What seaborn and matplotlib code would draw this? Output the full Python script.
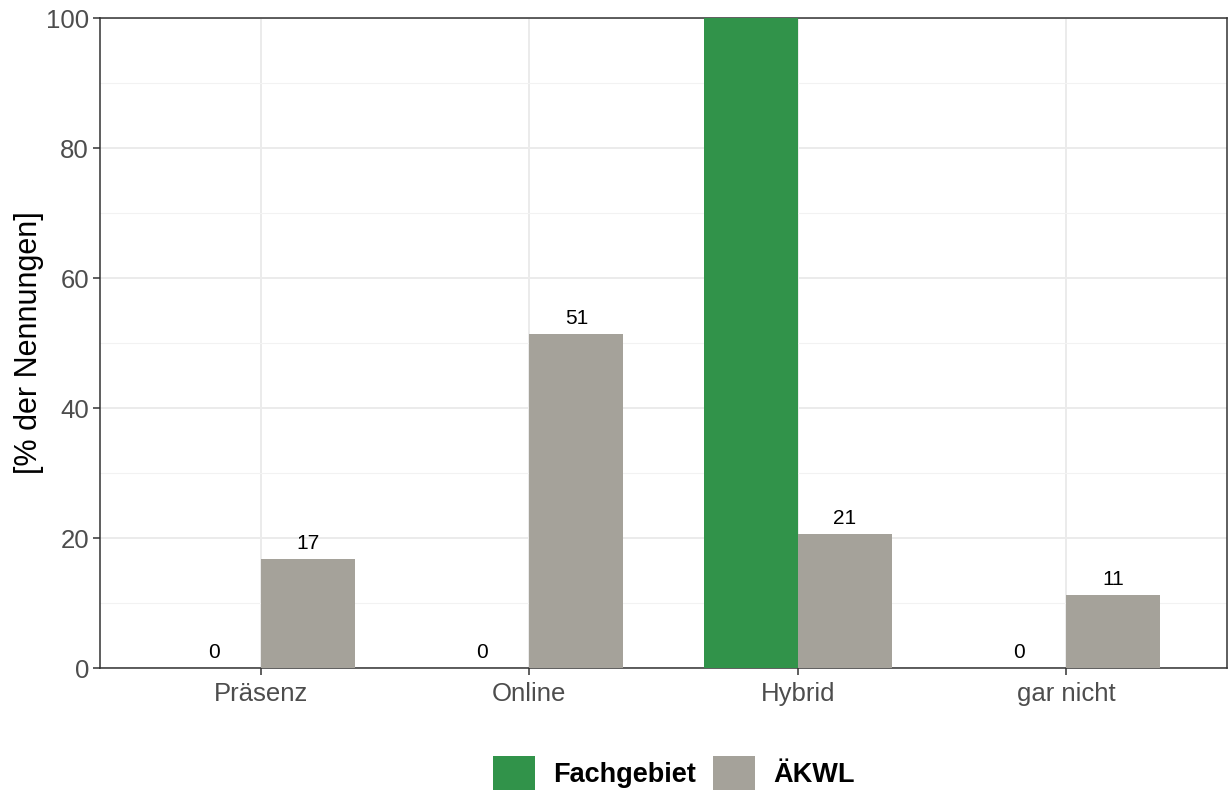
import matplotlib
matplotlib.use("Agg")
import matplotlib.pyplot as plt
from matplotlib.ticker import MultipleLocator
import pandas as pd
import seaborn as sns

categories = ["Präsenz", "Online", "Hybrid", "gar nicht"]
groups = ["Fachgebiet", "ÄKWL"]
fachgebiet = [0, 0, 100, 0]
aekwl = [16.7, 51.4, 20.6, 11.2]
colors = {"Fachgebiet": "#31934A", "ÄKWL": "#A5A29A"}

df = pd.DataFrame({
    "Kategorie": categories * 2,
    "Gruppe": [groups[0]] * 4 + [groups[1]] * 4,
    "Prozent": fachgebiet + aekwl,
})

sns.set_theme(style="white")
plt.rcParams["font.family"] = ["Liberation Sans", "DejaVu Sans"]

fig = plt.figure(figsize=(12.29, 7.94), dpi=100)
ax = fig.add_axes([100 / 1229, 1 - 668 / 794, 1127 / 1229, 650 / 794])

sns.barplot(
    data=df, x="Kategorie", y="Prozent", hue="Gruppe", order=categories,
    hue_order=groups, palette=colors, width=0.7, gap=0, saturation=1,
    linewidth=0, ax=ax, zorder=3,
)

# value labels; a bar reaching the top of the panel gets none (it would sit outside)
for cont in ax.containers:
    vals = cont.datavalues
    labels = [f"{v:.0f}" if v < 100 else "" for v in vals]
    ax.bar_label(cont, labels=labels, padding=4.5, fontsize=15, color="black")

ax.set_xlim(-0.6, 3.6)
ax.set_ylim(0, 100)
ax.yaxis.set_major_locator(MultipleLocator(20))
ax.yaxis.set_minor_locator(MultipleLocator(10))
ax.grid(which="major", axis="both", color="#EBEBEB", linewidth=1.4, zorder=0)
ax.grid(which="minor", axis="y", color="#F2F2F2", linewidth=0.8, zorder=0)
ax.set_axisbelow(True)

for sp in ax.spines.values():
    sp.set_visible(True)
    sp.set_color("#333333")
    sp.set_linewidth(1.1)

ax.tick_params(axis="both", which="major", length=5, width=1.1, color="#333333",
               labelsize=18.5, labelcolor="#4D4D4D", left=True, bottom=True, pad=3)
ax.tick_params(axis="x", which="major", pad=5)
ax.tick_params(axis="y", which="minor", length=0)
ax.set_xlabel("")
ax.set_ylabel("[% der Nennungen]", fontsize=22, color="black", labelpad=1)

sns.move_legend(
    ax, "center", bbox_to_anchor=(0.509, -0.162), ncol=2, title=None, frameon=False,
    fontsize=19.5, handlelength=1.55, handleheight=1.55, handletextpad=0.67,
    columnspacing=0.63,
)
for txt in ax.get_legend().get_texts():
    txt.set_fontweight("bold")
    txt.set_color("black")

fig.savefig("out.png", dpi=100)
